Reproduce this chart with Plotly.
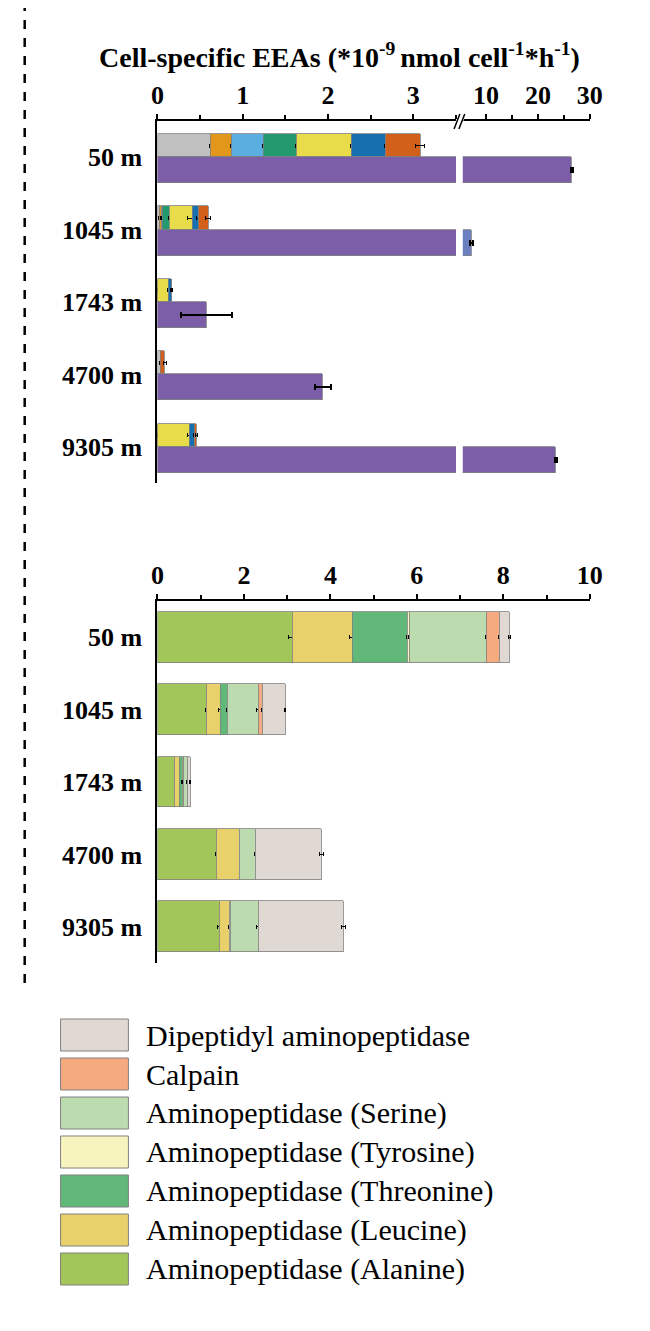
import plotly.graph_objects as go

depths = ["50 m", "1045 m", "1743 m", "4700 m", "9305 m"]

# top panel: stacked small enzymes (no legend in the original)
top_names = ["s1", "s2", "s3", "s4", "s5", "s6", "s7"]
top_colors = ["#c0c0c0", "#e2961a", "#5aaee0", "#22996f", "#e8dc4a", "#1670b0", "#d2601a"]
top_vals = [
    [0.62, 0.02, 0.005, 0.03, 0.0],
    [0.25, 0.025, 0.0, 0.0, 0.0],
    [0.37, 0.01, 0.0, 0.0, 0.0],
    [0.39, 0.09, 0.0, 0.0, 0.0],
    [0.64, 0.26, 0.125, 0.0, 0.37],
    [0.40, 0.07, 0.035, 0.0, 0.06],
    [0.41, 0.12, 0.0, 0.055, 0.03],
]
top_err = [
    [0.01, 0.01, 0.0, 0.01, 0.0],
    [0.01, 0.01, 0.0, 0.0, 0.0],
    [0.01, 0.01, 0.0, 0.0, 0.0],
    [0.01, 0.01, 0.0, 0.0, 0.0],
    [0.01, 0.05, 0.01, 0.0, 0.02],
    [0.01, 0.02, 0.01, 0.0, 0.01],
    [0.05, 0.03, 0.0, 0.02, 0.01],
]
purple_vals = [26.6, 7.2, 0.57, 1.94, 23.4]
purple_err = [0.2, 0.3, 0.30, 0.09, 0.2]
right_colors = ["#7b5ea7", "#6a80c0", "#7b5ea7", "#7b5ea7", "#7b5ea7"]

# bottom panel: aminopeptidases
bot_names = ["Aminopeptidase (Alanine)", "Aminopeptidase (Leucine)", "Aminopeptidase (Threonine)",
             "Aminopeptidase (Tyrosine)", "Aminopeptidase (Serine)", "Calpain",
             "Dipeptidyl aminopeptidase"]
bot_colors = ["#a2c65a", "#e8d06a", "#62b878", "#f8f4be", "#bcdcb0", "#f5aa80", "#e0d8d2"]
bot_vals = [
    [3.12, 1.13, 0.40, 1.36, 1.44],
    [1.40, 0.32, 0.11, 0.54, 0.23],
    [1.27, 0.17, 0.06, 0.0, 0.0],
    [0.03, 0.01, 0.02, 0.0, 0.02],
    [1.78, 0.71, 0.10, 0.36, 0.65],
    [0.31, 0.10, 0.01, 0.0, 0.0],
    [0.24, 0.51, 0.06, 1.53, 1.96],
]
bot_err = [
    [0.08, 0.02, 0.01, 0.01, 0.04],
    [0.08, 0.04, 0.01, 0.01, 0.02],
    [0.02, 0.03, 0.01, 0.0, 0.0],
    [0.01, 0.01, 0.01, 0.0, 0.01],
    [0.02, 0.04, 0.01, 0.02, 0.05],
    [0.02, 0.03, 0.01, 0.0, 0.0],
    [0.02, 0.01, 0.01, 0.05, 0.05],
]

pos = list(range(len(depths)))
line = dict(color="#808080", width=0.8)
err = lambda a: dict(type="data", array=a, color="black", thickness=1, width=2)

fig = go.Figure()
for n, c, v, e in zip(top_names, top_colors, top_vals, top_err):
    fig.add_trace(go.Bar(y=[p - 0.16 for p in pos], x=v, orientation="h", width=0.32,
                         marker=dict(color=c, line=line), error_x=err(e),
                         xaxis="x", yaxis="y", showlegend=False))
left_err = [e if v < 3.5 else 0 for v, e in zip(purple_vals, purple_err)]
fig.add_trace(go.Bar(y=[p + 0.18 for p in pos], x=purple_vals, orientation="h", width=0.36,
                     marker=dict(color="#7b5ea7", line=line),
                     error_x=dict(type="data", array=left_err, color="black", thickness=2, width=3),
                     xaxis="x", yaxis="y", showlegend=False))
right_vals = [v if v > 3.5 else None for v in purple_vals]
fig.add_trace(go.Bar(y=[p + 0.18 for p in pos], x=right_vals, orientation="h", width=0.36,
                     marker=dict(color=right_colors, line=line),
                     error_x=dict(type="data", array=purple_err, color="black", thickness=2, width=3),
                     xaxis="x3", yaxis="y3", showlegend=False))

for n, c, v, e in zip(bot_names, bot_colors, bot_vals, bot_err):
    fig.add_trace(go.Bar(y=pos, x=v, orientation="h", width=0.7, name=n,
                         marker=dict(color=c, line=line), error_x=err(e),
                         xaxis="x2", yaxis="y2", showlegend=False))

tickfont = dict(family="Liberation Serif", size=26, color="black", weight="bold")
xcommon = dict(side="top", showline=True, linecolor="black", linewidth=2, ticks="outside",
               ticklen=5, tickwidth=2, tickcolor="black", showgrid=False, zeroline=False,
               tickfont=tickfont, fixedrange=True)
ycommon = dict(tickmode="array", tickvals=pos, ticktext=depths, range=[4.5, -0.5],
               showline=True, linecolor="black", linewidth=2, showgrid=False, zeroline=False,
               tickfont=tickfont, ticks="", ticklabelstandoff=8)

T0, T1 = 1 - 113 / 1331, 1 - 475 / 1331
B0, B1 = 1 - 593 / 1331, 1 - 955 / 1331
fig.update_layout(
    width=650, height=1331, margin=dict(l=0, r=0, t=0, b=0),
    plot_bgcolor="white", paper_bgcolor="white", barmode="stack", bargap=0,
    xaxis=dict(domain=[147 / 650, 455 / 650], range=[0, 3.5], tickvals=[0, 1, 2, 3],
               minor=dict(dtick=0.5, ticks="outside", ticklen=4, tickcolor="black"),
               anchor="y", **xcommon),
    yaxis=dict(domain=[T1, T0], anchor="x", **ycommon),
    xaxis3=dict(domain=[462 / 650, 593 / 650], range=[5.5, 30], tickvals=[10, 20, 30],
                minor=dict(dtick=5, ticks="outside", ticklen=4, tickcolor="black"),
                anchor="y3", **xcommon),
    yaxis3=dict(domain=[T1, T0], anchor="x3", range=[4.5, -0.5], visible=False),
    xaxis2=dict(domain=[147 / 650, 593 / 650], range=[0, 10], dtick=2,
                minor=dict(dtick=1, ticks="outside", ticklen=4, tickcolor="black"),
                anchor="y2", **xcommon),
    yaxis2=dict(domain=[B1, B0], anchor="x2", **ycommon),
)

shapes = [
    dict(type="line", xref="paper", yref="paper", x0=10 / 650, x1=10 / 650, y0=1 - 975 / 1331,
         y1=1.0, line=dict(color="black", width=2.5, dash="dash")),
    dict(type="line", xref="paper", yref="paper", x0=455 / 650, x1=462 / 650,
         y0=1 - 121 / 1331, y1=1 - 107 / 1331, line=dict(color="white", width=6)),
]
for dx in (453, 458):
    shapes.append(dict(type="line", xref="paper", yref="paper", x0=dx / 650, x1=(dx + 6) / 650,
                       y0=1 - 121 / 1331, y1=1 - 106 / 1331, line=dict(color="black", width=1.5)))

annotations = [dict(text="Cell-specific EEAs (*10<sup>-9 </sup>nmol cell<sup>-1</sup>*h<sup>-1</sup>)",
                    xref="paper", yref="paper", x=85 / 650, y=1 - 47 / 1331, xanchor="left",
                    yanchor="middle", showarrow=False,
                    font=dict(family="Liberation Serif", size=28, color="black", weight="bold"))]

for i, (n, c) in enumerate(zip(bot_names[::-1], bot_colors[::-1])):
    yc = 1027 + i * 39
    shapes.append(dict(type="rect", xref="paper", yref="paper", x0=47 / 650, x1=117 / 650,
                       y0=1 - (yc + 16) / 1331, y1=1 - (yc - 16) / 1331,
                       fillcolor=c, line=dict(color="#808080", width=1)))
    annotations.append(dict(text=n, xref="paper", yref="paper", x=133 / 650, y=1 - yc / 1331,
                            xanchor="left", yanchor="middle", showarrow=False,
                            font=dict(family="Liberation Serif", size=30, color="black")))

fig.update_layout(shapes=shapes, annotations=annotations)
fig.write_html("out.html")
